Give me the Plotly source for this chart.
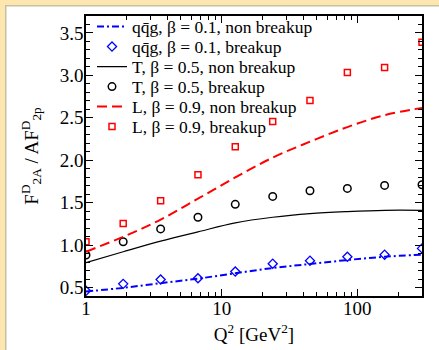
import plotly.graph_objects as go

# ---- data ----
q2 = [1.0, 1.88, 3.55, 6.69, 12.6, 23.8, 44.8, 84.5, 159.0, 300.0]

qqg_nonbreak = [0.453, 0.496, 0.551, 0.605, 0.668, 0.730, 0.777, 0.824, 0.863, 0.887]
qqg_break = [0.461, 0.543, 0.594, 0.609, 0.688, 0.781, 0.816, 0.863, 0.887, 0.961]
T_nonbreak = [0.793, 0.922, 1.047, 1.156, 1.262, 1.328, 1.371, 1.395, 1.410, 1.410]
T_break = [0.883, 1.039, 1.191, 1.328, 1.480, 1.574, 1.641, 1.668, 1.703, 1.711]
L_nonbreak = [0.922, 1.098, 1.300, 1.547, 1.797, 2.031, 2.219, 2.391, 2.531, 2.617]
L_break = [1.039, 1.254, 1.523, 1.828, 2.160, 2.457, 2.703, 3.035, 3.094, 3.391]

names = [
    "qq\u0304g, \u03b2 = 0.1, non breakup",
    "qq\u0304g, \u03b2 = 0.1, breakup",
    "T, \u03b2 = 0.5, non breakup",
    "T, \u03b2 = 0.5, breakup",
    "L, \u03b2 = 0.9, non breakup",
    "L, \u03b2 = 0.9, breakup",
]

x_major = [1, 10, 100]
x_minor = [2, 3, 4, 5, 6, 7, 8, 9, 20, 30, 40, 50, 60, 70, 80, 90, 200, 300]

FONT = "Liberation Serif, Times New Roman, serif"
W, H = 439, 350
ML, MR, MT, MB = 86, 17, 16, 54
PW, PH = W - ML - MR, H - MT - MB

legend_ids = ["legend", "legend2", "legend3", "legend4", "legend5", "legend6"]

fig = go.Figure()
fig.add_trace(go.Scatter(x=q2, y=qqg_nonbreak, mode="lines", name=names[0], legend=legend_ids[0],
                         line=dict(color="#0000ff", width=2, dash="7px,3px,2px,3px", shape="spline")))
fig.add_trace(go.Scatter(x=q2, y=qqg_break, mode="markers", name=names[1], legend=legend_ids[1],
                         marker=dict(symbol="diamond-open", size=7, color="#0000ff", line=dict(width=1.3))))
fig.add_trace(go.Scatter(x=q2, y=T_nonbreak, mode="lines", name=names[2], legend=legend_ids[2],
                         line=dict(color="black", width=1.2, shape="spline")))
fig.add_trace(go.Scatter(x=q2, y=T_break, mode="markers", name=names[3], legend=legend_ids[3],
                         marker=dict(symbol="circle-open", size=7.5, color="black", line=dict(width=1.5))))
fig.add_trace(go.Scatter(x=q2, y=L_nonbreak, mode="lines", name=names[4], legend=legend_ids[4],
                         line=dict(color="#ff0000", width=2, dash="10px,5px", shape="spline")))
fig.add_trace(go.Scatter(x=q2, y=L_break, mode="markers", name=names[5], legend=legend_ids[5],
                         marker=dict(symbol="square-open", size=6, color="#ff0000", line=dict(width=1.5))))


def px_x(p):
    return (p - ML) / PW


def px_y(p):
    return 1 - (p - MT) / PH


beige = "#fde6b0"
shade = "#cbbf9f"
shapes = [
    dict(type="rect", xref="paper", yref="paper", x0=px_x(0), x1=px_x(W), y0=px_y(0), y1=px_y(5),
         fillcolor=beige, line=dict(width=0), layer="below"),
    dict(type="rect", xref="paper", yref="paper", x0=px_x(0), x1=px_x(5), y0=px_y(0), y1=px_y(H),
         fillcolor=beige, line=dict(width=0), layer="below"),
    dict(type="rect", xref="paper", yref="paper", x0=px_x(5), x1=px_x(W), y0=px_y(5), y1=px_y(6.5),
         fillcolor=shade, line=dict(width=0), layer="below"),
    dict(type="rect", xref="paper", yref="paper", x0=px_x(5), x1=px_x(6.5), y0=px_y(5), y1=px_y(H),
         fillcolor=shade, line=dict(width=0), layer="below"),
]

legend_layout = {}
for i, lid in enumerate(legend_ids):
    center_px = 26.7 + 20 * i
    legend_layout[lid] = dict(x=px_x(92), y=px_y(center_px), xanchor="left", yanchor="middle",
                              bgcolor="rgba(0,0,0,0)", font=dict(family=FONT, size=17.5, color="black"),
                              itemwidth=30, borderwidth=0)

fig.update_layout(
    template="none",
    width=W, height=H,
    margin=dict(l=ML, r=MR, t=MT, b=MB, autoexpand=False),
    paper_bgcolor="white", plot_bgcolor="white",
    font=dict(family=FONT, color="black", size=18),
    shapes=shapes,
    showlegend=True,
    xaxis=dict(type="log", range=[0, 2.4771], tickvals=x_major, ticktext=["1", "10", "100"],
               automargin=False, ticklabelstandoff=-6,
               ticks="inside", ticklen=7, tickwidth=1.2, tickcolor="black",
               showline=True, linecolor="black", linewidth=1.5, mirror="ticks",
               showgrid=False, zeroline=False,
               minor=dict(tickvals=x_minor, ticks="inside", ticklen=4, tickwidth=1, tickcolor="black"),
               tickfont=dict(family=FONT, size=19),
               title=dict(text="Q<sup>2</sup> [GeV<sup>2</sup>]", font=dict(family=FONT, size=19),
                          standoff=10)),
    yaxis=dict(range=[0.4, 3.7], dtick=0.5, tick0=0.5, tickformat=".1f",
               automargin=False, ticklabelstandoff=-3,
               ticks="inside", ticklen=7, tickwidth=1.2, tickcolor="black",
               showline=True, linecolor="black", linewidth=1.5, mirror="ticks",
               showgrid=False, zeroline=False,
               minor=dict(dtick=0.1, ticks="inside", ticklen=4, tickwidth=1, tickcolor="black"),
               tickfont=dict(family=FONT, size=19),
               title=dict(text="F<sup>D</sup><sub>2A</sub> / AF<sup>D</sup><sub>2p</sub>",
                          font=dict(family=FONT, size=19))),
    **legend_layout,
)

fig.write_html("out.html", config={"displayModeBar": False},
               post_script=("document.body.style.margin='0';document.body.style.padding='0';"
                            "document.body.style.overflow='hidden';"
                            "document.documentElement.style.overflow='hidden';"))
